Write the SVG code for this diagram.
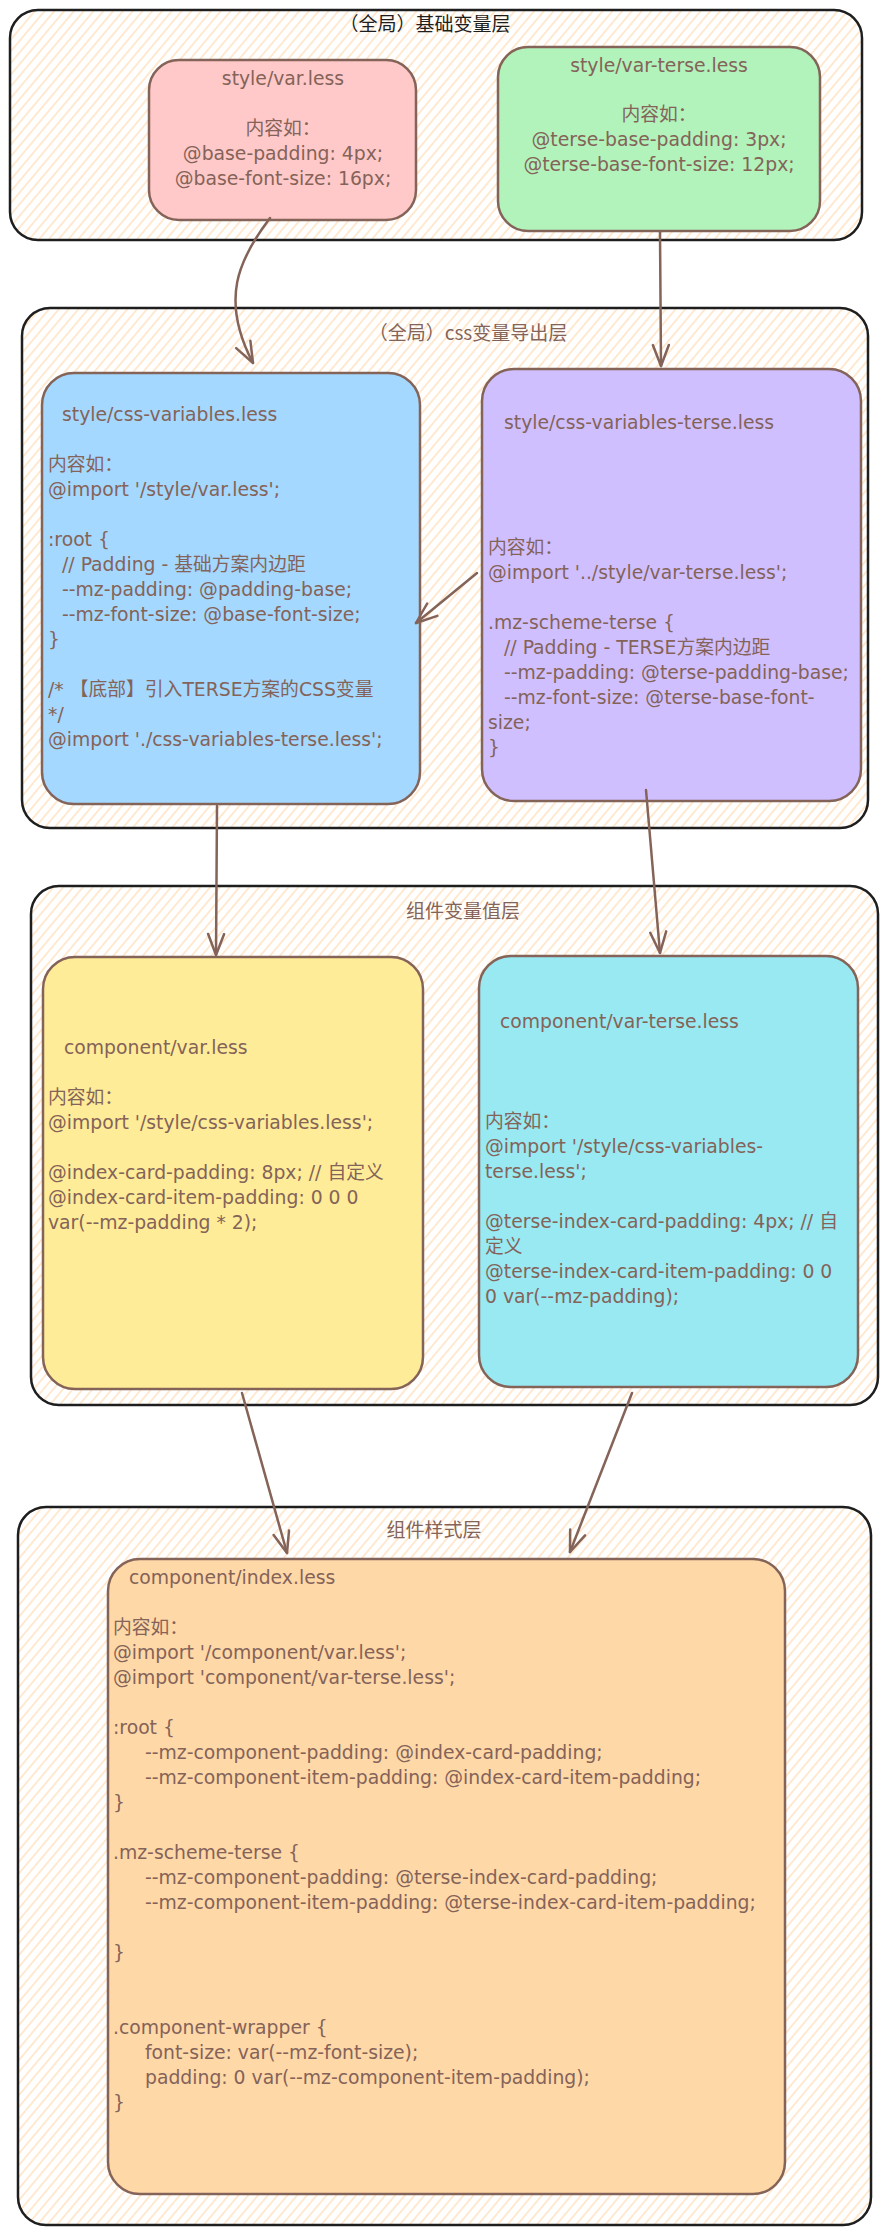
<svg xmlns="http://www.w3.org/2000/svg" width="888" height="2236" viewBox="0 0 888 2236">
<style>
.layer{stroke:#1e1e1e;stroke-width:2.5;}
.box{stroke:#846358;stroke-width:2.5;}
.t{font-family:"DejaVu Sans","Noto Sans CJK SC",sans-serif;font-size:18.8px;fill:#846358;}
.c{text-anchor:middle;}
.lt{font-family:"Noto Sans CJK SC","DejaVu Sans",sans-serif;font-size:19px;fill:#846358;text-anchor:middle;}
.conn{fill:none;stroke:#846358;stroke-width:2.5;stroke-linecap:round;marker-end:url(#ah);}
</style>
<defs>
<pattern id="hatch" patternUnits="userSpaceOnUse" width="7.5" height="10" patternTransform="rotate(40)">
<rect width="7.5" height="10" fill="#ffffff"/>
<line x1="3.75" y1="0" x2="3.75" y2="10" stroke="#ffd5a3" stroke-width="1"/>
</pattern>
<marker id="ah" markerUnits="userSpaceOnUse" viewBox="-24 -12 28 24" markerWidth="28" markerHeight="24" refX="0" refY="0" orient="auto" overflow="visible">
<path d="M -21 -8 L 0 0 L -21 8" fill="none" stroke="#846358" stroke-width="2.5" stroke-linecap="round" stroke-linejoin="round"/>
</marker>
</defs>
<rect width="888" height="2236" fill="#ffffff"/>

<g id="layer-base">
<rect class="layer" x="10" y="10" width="852" height="230" rx="28" fill="url(#hatch)"/>
<text class="lt" x="425" y="31" style="fill:#1e1e1e">（全局）基础变量层</text>
</g>
<g id="layer-css">
<rect class="layer" x="22" y="308" width="846" height="520" rx="28" fill="url(#hatch)"/>
<text class="lt" x="468" y="340">（全局）css变量导出层</text>
</g>
<g id="layer-comp-var">
<rect class="layer" x="31" y="886" width="847" height="519" rx="28" fill="url(#hatch)"/>
<text class="lt" x="463" y="918">组件变量值层</text>
</g>
<g id="layer-comp-style">
<rect class="layer" x="18" y="1507" width="853" height="718" rx="28" fill="url(#hatch)"/>
<text class="lt" x="434" y="1537">组件样式层</text>
</g>

<g id="style-var">
<rect class="box" x="149" y="60" width="267" height="160" rx="30" fill="#ffc9c9"/>
<text class="t c" x="283" y="85">style/var.less</text>
<text class="t c" x="283" y="135">内容如：</text>
<text class="t c" x="283" y="160">@base-padding: 4px;</text>
<text class="t c" x="283" y="185">@base-font-size: 16px;</text>
</g>

<g id="style-var-terse">
<rect class="box" x="498" y="47" width="322" height="184" rx="30" fill="#b2f2bb"/>
<text class="t c" x="659" y="72">style/var-terse.less</text>
<text class="t c" x="659" y="121">内容如：</text>
<text class="t c" x="659" y="146">@terse-base-padding: 3px;</text>
<text class="t c" x="659" y="171">@terse-base-font-size: 12px;</text>
</g>

<g id="css-variables">
<rect class="box" x="42" y="373" width="378" height="431" rx="32" fill="#a5d8ff"/>
<text class="t" x="62" y="421">style/css-variables.less</text>
<text class="t" x="48" y="471">内容如：</text>
<text class="t" x="48" y="496">@import '/style/var.less';</text>
<text class="t" x="48" y="546">:root {</text>
<text class="t" x="62" y="571">// Padding - 基础方案内边距</text>
<text class="t" x="62" y="596">--mz-padding: @padding-base;</text>
<text class="t" x="62" y="621">--mz-font-size: @base-font-size;</text>
<text class="t" x="48" y="646">}</text>
<text class="t" x="48" y="696">/* 【底部】引入TERSE方案的CSS变量</text>
<text class="t" x="48" y="721">*/</text>
<text class="t" x="48" y="746">@import './css-variables-terse.less';</text>
</g>

<g id="css-variables-terse">
<rect class="box" x="482" y="369" width="379" height="432" rx="32" fill="#d0bfff"/>
<text class="t" x="504" y="429">style/css-variables-terse.less</text>
<text class="t" x="488" y="554">内容如：</text>
<text class="t" x="488" y="579">@import '../style/var-terse.less';</text>
<text class="t" x="488" y="629">.mz-scheme-terse {</text>
<text class="t" x="504" y="654">// Padding - TERSE方案内边距</text>
<text class="t" x="504" y="679">--mz-padding: @terse-padding-base;</text>
<text class="t" x="504" y="704">--mz-font-size: @terse-base-font-</text>
<text class="t" x="488" y="729">size;</text>
<text class="t" x="488" y="754">}</text>
</g>

<g id="component-var">
<rect class="box" x="43" y="957" width="380" height="432" rx="32" fill="#ffec99"/>
<text class="t" x="64" y="1054">component/var.less</text>
<text class="t" x="48" y="1104">内容如：</text>
<text class="t" x="48" y="1129">@import '/style/css-variables.less';</text>
<text class="t" x="48" y="1179">@index-card-padding: 8px; // 自定义</text>
<text class="t" x="48" y="1204">@index-card-item-padding: 0 0 0</text>
<text class="t" x="48" y="1229">var(--mz-padding * 2);</text>
</g>

<g id="component-var-terse">
<rect class="box" x="479" y="956" width="379" height="431" rx="32" fill="#99e9f2"/>
<text class="t" x="500" y="1028">component/var-terse.less</text>
<text class="t" x="485" y="1128">内容如：</text>
<text class="t" x="485" y="1153">@import '/style/css-variables-</text>
<text class="t" x="485" y="1178">terse.less';</text>
<text class="t" x="485" y="1228">@terse-index-card-padding: 4px; // 自</text>
<text class="t" x="485" y="1253">定义</text>
<text class="t" x="485" y="1278">@terse-index-card-item-padding: 0 0</text>
<text class="t" x="485" y="1303">0 var(--mz-padding);</text>
</g>

<g id="component-index">
<rect class="box" x="108" y="1559" width="677" height="635" rx="32" fill="#ffd8a8"/>
<text class="t" x="129" y="1584">component/index.less</text>
<text class="t" x="113" y="1634">内容如：</text>
<text class="t" x="113" y="1659">@import '/component/var.less';</text>
<text class="t" x="113" y="1684">@import 'component/var-terse.less';</text>
<text class="t" x="113" y="1734">:root {</text>
<text class="t" x="145" y="1759">--mz-component-padding: @index-card-padding;</text>
<text class="t" x="145" y="1784">--mz-component-item-padding: @index-card-item-padding;</text>
<text class="t" x="113" y="1809">}</text>
<text class="t" x="113" y="1859">.mz-scheme-terse {</text>
<text class="t" x="145" y="1884">--mz-component-padding: @terse-index-card-padding;</text>
<text class="t" x="145" y="1909">--mz-component-item-padding: @terse-index-card-item-padding;</text>
<text class="t" x="113" y="1959">}</text>
<text class="t" x="113" y="2034">.component-wrapper {</text>
<text class="t" x="145" y="2059">font-size: var(--mz-font-size);</text>
<text class="t" x="145" y="2084">padding: 0 var(--mz-component-item-padding);</text>
<text class="t" x="113" y="2109">}</text>
</g>

<g id="connectors">
<path class="conn" d="M 270 218 C 238 260, 220 300, 253 363"/>
<path class="conn" d="M 660 232 L 661 366"/>
<path class="conn" d="M 477 573 L 416 623"/>
<path class="conn" d="M 217 806 L 216 955"/>
<path class="conn" d="M 646 790 L 660 953"/>
<path class="conn" d="M 242 1393 L 287 1553"/>
<path class="conn" d="M 632 1393 L 570 1552"/>
</g>
</svg>
